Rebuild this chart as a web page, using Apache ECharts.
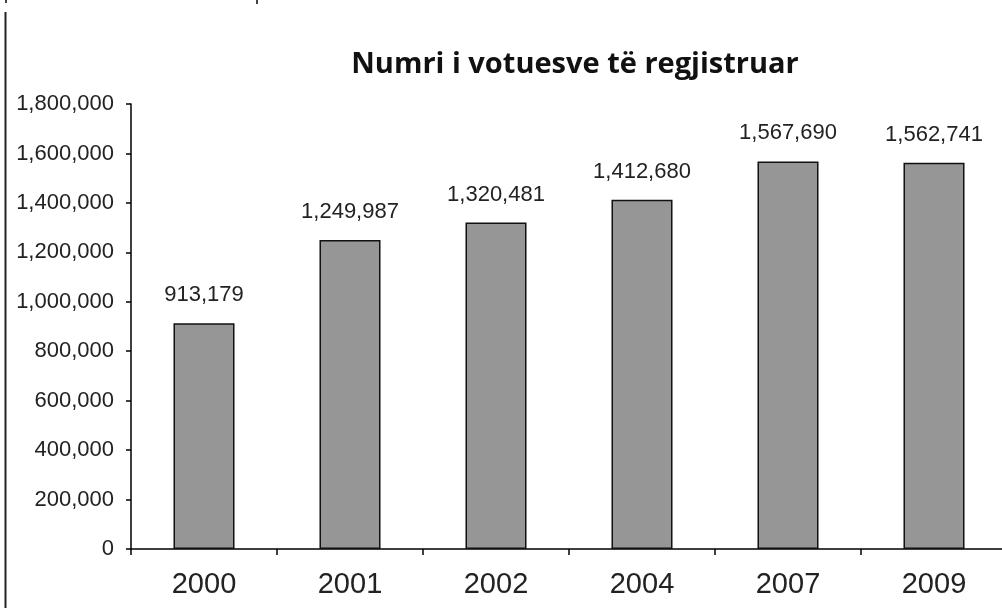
<!DOCTYPE html>
<html>
<head>
<meta charset="utf-8">
<script src="https://cdn.jsdelivr.net/npm/echarts@6/dist/echarts.min.js"></script>
<style>
  html, body { margin: 0; padding: 0; background: #fff; }
  #chart { width: 1002px; height: 608px; }
</style>
</head>
<body>
<div id="chart"></div>
<script>
const years = ['2000', '2001', '2002', '2004', '2007', '2009'];
const voters = [913179, 1249987, 1320481, 1412680, 1567690, 1562741];
const yMax = 1800000;
const yStep = 200000;

const fmt = (v) => Number(v).toLocaleString('en-US');

const chart = echarts.init(document.getElementById('chart'));

const option = {
  backgroundColor: '#ffffff',
  animation: false,
  title: {
    text: 'Numri i votuesve të regjistruar',
    left: 570,
    top: 45,
    textAlign: 'center',
    textStyle: {
      fontFamily: 'Open Sans',
      fontWeight: 'bold',
      fontSize: 29,
      color: '#111',
    },
  },
  // plot runs past the right edge, like the source
  grid: {
    left: 131,
    width: 876,
    top: 104,
    bottom: 59,
    containLabel: false,
    outerBoundsMode: 'none',
  },
  xAxis: {
    type: 'category',
    data: years,
    axisLine: { lineStyle: { color: '#000', width: 1.5 } },
    axisTick: { show: true, length: 6, lineStyle: { color: '#000', width: 1.5 } },
    axisLabel: {
      fontFamily: 'Liberation Sans',
      fontSize: 29,
      color: '#222',
      margin: 21,
    },
  },
  yAxis: {
    type: 'value',
    min: 0,
    max: yMax,
    interval: yStep,
    splitLine: { show: false },
    axisLine: { show: true, lineStyle: { color: '#000', width: 1.5 } },
    axisTick: { show: true, length: 5, lineStyle: { color: '#000', width: 1.5 } },
    axisLabel: {
      formatter: fmt,
      fontFamily: 'Liberation Sans',
      fontSize: 22,
      color: '#222',
      margin: 17,
    },
  },
  series: [
    {
      type: 'bar',
      data: voters,
      barWidth: '41.8%',
      itemStyle: {
        color: '#969696',
        borderColor: '#111',
        borderWidth: 1.5,
      },
      label: {
        show: true,
        position: 'top',
        distance: 17,
        formatter: (p) => fmt(p.value),
        fontFamily: 'Liberation Sans',
        fontSize: 22,
        color: '#222',
      },
    },
  ],
  graphic: [
    { type: 'line', shape: { x1: 5.5, y1: 12, x2: 5.5, y2: 608 }, style: { stroke: '#222', lineWidth: 2 } },
    { type: 'line', shape: { x1: 6, y1: 0, x2: 6, y2: 3 }, style: { stroke: '#444', lineWidth: 2 } },
    { type: 'line', shape: { x1: 257, y1: 0, x2: 257, y2: 4 }, style: { stroke: '#444', lineWidth: 2 } },
  ],
};

chart.setOption(option);
</script>
</body>
</html>
